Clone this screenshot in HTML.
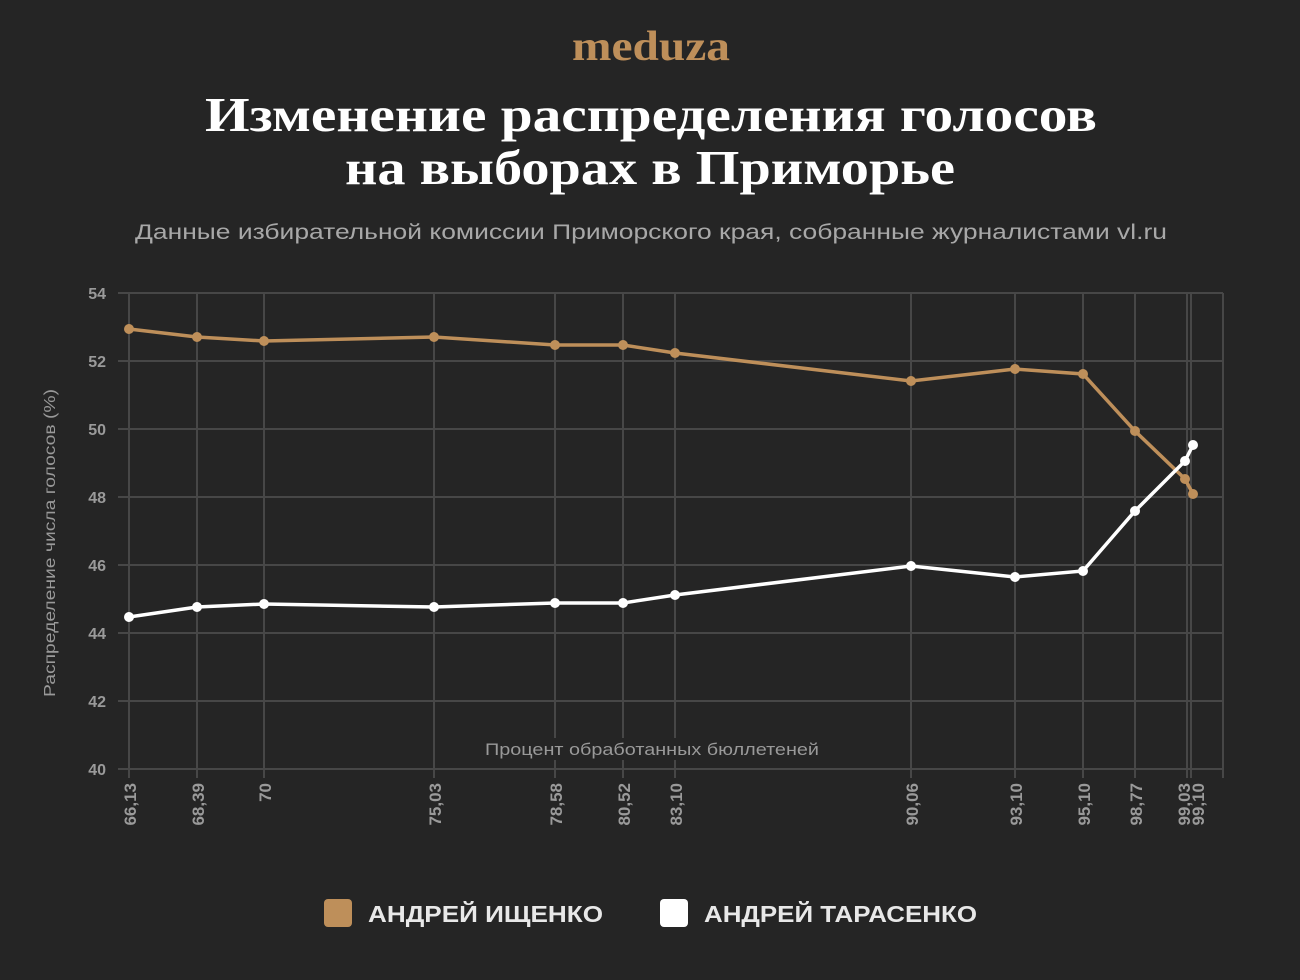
<!DOCTYPE html>
<html><head><meta charset="utf-8"><style>
body{margin:0;background:#252525;width:1300px;height:980px;overflow:hidden}
svg{display:block}
</style></head><body>
<svg width="1300" height="980" xmlns="http://www.w3.org/2000/svg" font-family="'Liberation Sans','DejaVu Sans',sans-serif">
<rect width="1300" height="980" fill="#252525"/>
<text x="651" y="60" text-anchor="middle" font-family="'Liberation Serif',serif" font-weight="bold" font-size="42" fill="#be8f5a" textLength="158" lengthAdjust="spacingAndGlyphs">meduza</text>
<text x="651" y="131" text-anchor="middle" font-family="'Liberation Serif','Noto Serif CJK SC',serif" font-weight="bold" font-size="49" fill="#fff" textLength="892" lengthAdjust="spacingAndGlyphs">Изменение распределения голосов</text>
<text x="650" y="184" text-anchor="middle" font-family="'Liberation Serif','Noto Serif CJK SC',serif" font-weight="bold" font-size="49" fill="#fff" textLength="610" lengthAdjust="spacingAndGlyphs">на выборах в Приморье</text>
<text x="651" y="239" text-anchor="middle" font-size="21" fill="#a8a8a8" textLength="1032" lengthAdjust="spacingAndGlyphs">Данные избирательной комиссии Приморского края, собранные журналистами vl.ru</text>
<g stroke="#474747" stroke-width="2">
<line x1="118" y1="293" x2="1223" y2="293"/><line x1="118" y1="361" x2="1223" y2="361"/>
<line x1="118" y1="429" x2="1223" y2="429"/><line x1="118" y1="497" x2="1223" y2="497"/>
<line x1="118" y1="565" x2="1223" y2="565"/><line x1="118" y1="633" x2="1223" y2="633"/>
<line x1="118" y1="701" x2="1223" y2="701"/><line x1="118" y1="769" x2="1223" y2="769"/>
<line x1="1223" y1="293" x2="1223" y2="778"/>
<line x1="129" y1="293" x2="129" y2="778"/><line x1="197" y1="293" x2="197" y2="778"/>
<line x1="264" y1="293" x2="264" y2="778"/><line x1="434" y1="293" x2="434" y2="778"/>
<line x1="555" y1="293" x2="555" y2="778"/><line x1="623" y1="293" x2="623" y2="778"/>
<line x1="675" y1="293" x2="675" y2="778"/><line x1="911" y1="293" x2="911" y2="778"/>
<line x1="1015" y1="293" x2="1015" y2="778"/><line x1="1083" y1="293" x2="1083" y2="778"/>
<line x1="1135" y1="293" x2="1135" y2="778"/><line x1="1187" y1="293" x2="1187" y2="778"/>
<line x1="1191" y1="293" x2="1191" y2="778"/>
</g>
<rect x="480" y="738" width="345" height="22" fill="#252525"/>
<text x="652" y="755" text-anchor="middle" font-size="17" fill="#999" textLength="334" lengthAdjust="spacingAndGlyphs">Процент обработанных бюллетеней</text>
<g font-size="16" font-weight="bold" fill="#9a9a9a" text-anchor="end">
<text x="106" y="299">54</text><text x="106" y="367">52</text><text x="106" y="435">50</text>
<text x="106" y="503">48</text><text x="106" y="571">46</text><text x="106" y="639">44</text>
<text x="106" y="707">42</text><text x="106" y="775">40</text>
</g>
<text transform="translate(55,543) rotate(-90)" text-anchor="middle" font-size="16" fill="#999" textLength="308" lengthAdjust="spacingAndGlyphs">Распределение числа голосов (%)</text>
<g font-size="17" font-weight="bold" fill="#9a9a9a" text-anchor="end">
<text transform="translate(136,783) rotate(-90)">66,13</text>
<text transform="translate(204,783) rotate(-90)">68,39</text>
<text transform="translate(271,783) rotate(-90)">70</text>
<text transform="translate(441,783) rotate(-90)">75,03</text>
<text transform="translate(562,783) rotate(-90)">78,58</text>
<text transform="translate(630,783) rotate(-90)">80,52</text>
<text transform="translate(682,783) rotate(-90)">83,10</text>
<text transform="translate(918,783) rotate(-90)">90,06</text>
<text transform="translate(1022,783) rotate(-90)">93,10</text>
<text transform="translate(1090,783) rotate(-90)">95,10</text>
<text transform="translate(1142,783) rotate(-90)">98,77</text>
<text transform="translate(1190,783) rotate(-90)">99,03</text>
<text transform="translate(1204,783) rotate(-90)">99,10</text>
</g>
<g fill="#be8f5a">
<polyline fill="none" stroke="#be8f5a" stroke-width="3.5" points="129,329 197,337 264,341 434,337 555,345 623,345 675,353 911,381 1015,369 1083,374 1135,431 1185,479 1193,494"/>
<circle cx="129" cy="329" r="5"/><circle cx="197" cy="337" r="5"/><circle cx="264" cy="341" r="5"/><circle cx="434" cy="337" r="5"/><circle cx="555" cy="345" r="5"/><circle cx="623" cy="345" r="5"/><circle cx="675" cy="353" r="5"/><circle cx="911" cy="381" r="5"/><circle cx="1015" cy="369" r="5"/><circle cx="1083" cy="374" r="5"/><circle cx="1135" cy="431" r="5"/><circle cx="1185" cy="479" r="5"/><circle cx="1193" cy="494" r="5"/>
</g>
<g fill="#fff">
<polyline fill="none" stroke="#fff" stroke-width="3.5" points="129,617 197,607 264,604 434,607 555,603 623,603 675,595 911,566 1015,577 1083,571 1135,511 1185,461 1193,445"/>
<circle cx="129" cy="617" r="5"/><circle cx="197" cy="607" r="5"/><circle cx="264" cy="604" r="5"/><circle cx="434" cy="607" r="5"/><circle cx="555" cy="603" r="5"/><circle cx="623" cy="603" r="5"/><circle cx="675" cy="595" r="5"/><circle cx="911" cy="566" r="5"/><circle cx="1015" cy="577" r="5"/><circle cx="1083" cy="571" r="5"/><circle cx="1135" cy="511" r="5"/><circle cx="1185" cy="461" r="5"/><circle cx="1193" cy="445" r="5"/>
</g>
<rect x="324" y="899" width="28" height="28" rx="4" fill="#be8f5a"/>
<text x="368" y="922" font-size="23" font-weight="bold" fill="#e8e8e8" textLength="235" lengthAdjust="spacingAndGlyphs">АНДРЕЙ ИЩЕНКО</text>
<rect x="660" y="899" width="28" height="28" rx="4" fill="#fff"/>
<text x="704" y="922" font-size="23" font-weight="bold" fill="#e8e8e8" textLength="273" lengthAdjust="spacingAndGlyphs">АНДРЕЙ ТАРАСЕНКО</text>
</svg>
</body></html>
